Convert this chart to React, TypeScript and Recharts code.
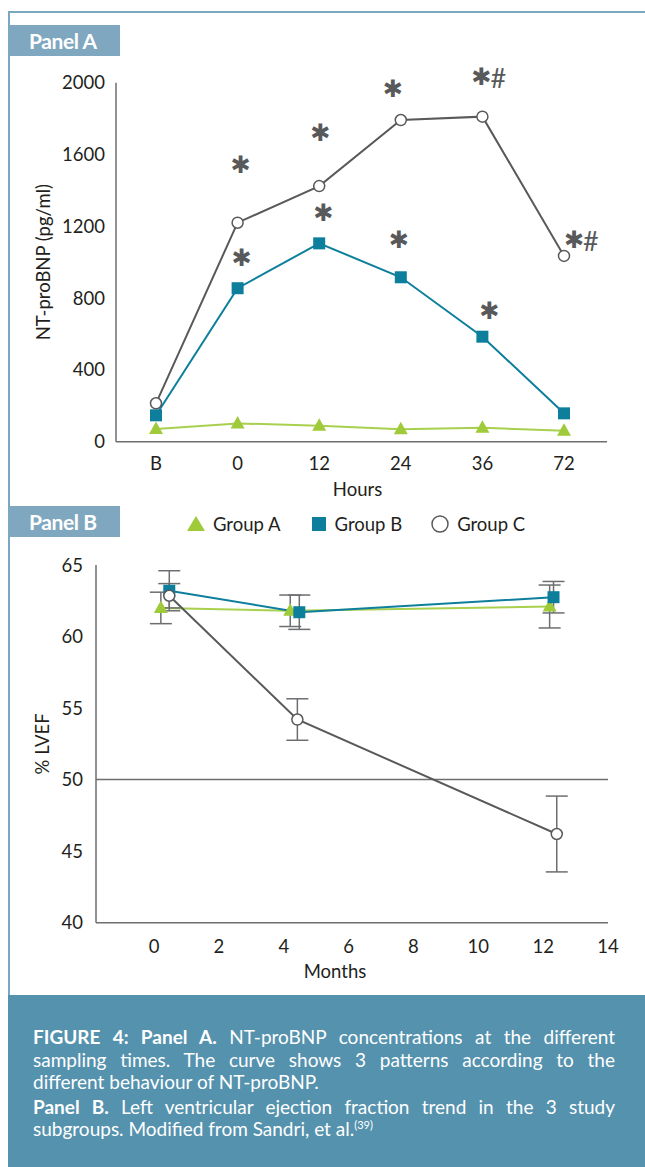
import { LineChart, Line, XAxis, YAxis, ErrorBar, LabelList, ReferenceLine } from 'recharts';

// Panel A: NT-proBNP (pg/ml) by sampling time
const hours = ['B', '0', '12', '24', '36', '72'];
const probnpA = [71, 102, 89, 69, 78, 61];
const probnpB = [147, 855, 1105, 916, 585, 158];
const probnpC = [214, 1220, 1424, 1792, 1811, 1035];
const marksB = ['', '*', '*', '*', '*', ''];
const marksC = ['', '*', '*', '*', '*#', '*#'];
const probnpTicks = [0, 400, 800, 1200, 1600, 2000];

// Panel B: % LVEF by month (x slightly staggered per group)
const monthsA = [0.21, 4.2, 12.2];
const lvefA = [62.0, 61.8, 62.1];
const errA = [1.1, 1.1, 1.5];
const monthsB = [0.47, 4.48, 12.32];
const lvefB = [63.2, 61.7, 62.75];
const errB = [1.4, 1.2, 1.1];
const monthsC = [0.47, 4.42, 12.42];
const lvefC = [62.85, 54.2, 46.2];
const errC = [0.85, 1.45, 2.65];
const lvefTicks = [40, 45, 50, 55, 60, 65];
const monthTicks = [0, 2, 4, 6, 8, 10, 12, 14];

const groups = ['Group A', 'Group B', 'Group C'];

const LIME = '#9fca3a';
const LIME_LINE = '#a8d04e';
const TEAL = '#0d7f9c';
const GRAY = '#58595b';
const AXIS = '#6d6e71';
const INK = '#231f20';
const FRAME = '#79a9c2';
const TAB = '#7fa7bf';
const CAPTION = '#5592ae';
const FONT = 'Lato, "Open Sans", sans-serif';

const hourData = hours.map((h, i) => ({
  hour: h,
  a: probnpA[i],
  b: probnpB[i],
  c: probnpC[i],
  markB: marksB[i],
  markC: marksC[i],
}));

const seriesB = (xs: number[], ys: number[], es: number[]) =>
  xs.map((x, i) => ({ x, y: ys[i], err: es[i] }));

const lvefDataA = seriesB(monthsA, lvefA, errA);
const lvefDataB = seriesB(monthsB, lvefB, errB);
const lvefDataC = seriesB(monthsC, lvefC, errC);

// marker shapes
const TriangleDot = (p: any) => {
  const { cx, cy } = p;
  if (cx == null || cy == null) return null;
  return <polygon points={`${cx},${cy - 7.5} ${cx + 7},${cy + 5} ${cx - 7},${cy + 5}`} fill={LIME} />;
};
const SquareDot = (p: any) => {
  const { cx, cy } = p;
  if (cx == null || cy == null) return null;
  return <rect x={cx - 6} y={cy - 6} width={12} height={12} fill={TEAL} />;
};
const CircleDot = (p: any) => {
  const { cx, cy } = p;
  if (cx == null || cy == null) return null;
  return <circle cx={cx} cy={cy} r={5.5} fill="#fff" stroke={GRAY} strokeWidth={1.5} />;
};

// where each significance mark sits relative to its point
const offsetsB: [number, number][] = [[0, 0], [4, -30], [4, -30], [-2, -37], [7, -26], [0, 0]];
const offsetsC: [number, number][] = [[0, 0], [3, -58], [1, -53], [-8, -31], [-1, -40], [10, -16]];

const starLabel = (offsets: [number, number][]) => (p: any) => {
  const value = p.value;
  if (!value) return null;
  const idx = p.index ?? 0;
  const px = p.x ?? p.viewBox?.x;
  const py = p.y ?? p.viewBox?.y;
  const [dx, dy] = offsets[idx];
  const sx = px + dx;
  const sy = py + dy;
  return (
    <g>
      <text x={sx} y={sy} textAnchor="middle" dominantBaseline="central" fontSize={24} fill={GRAY} fontFamily="DejaVu Sans">
        ✱
      </text>
      {String(value).includes('#') && (
        <text x={sx + 9} y={sy + 1} textAnchor="start" dominantBaseline="central" fontSize={27} fill={GRAY} fontFamily={FONT}>
          #
        </text>
      )}
    </g>
  );
};

const sideLabel = (text: string, x: number) => (p: any) => {
  const vb = p.viewBox;
  const cy = vb.y + vb.height / 2;
  return (
    <text x={x} y={cy} transform={`rotate(-90 ${x} ${cy})`} textAnchor="middle" dominantBaseline="central" fontSize={18.5} fill={INK}>
      {text}
    </text>
  );
};

const bottomLabel = (text: string, dx: number, up: number) => (p: any) => {
  const vb = p.viewBox;
  return (
    <text x={vb.x + vb.width / 2 + dx} y={vb.y + vb.height - up} textAnchor="middle" fontSize={18.5} fill={INK}>
      {text}
    </text>
  );
};

const tickStyle = { fontSize: 18.5, fill: INK };
const axisLine = { stroke: AXIS, strokeWidth: 1.5 };

const Tab = ({ top, text }: { top: number; text: string }) => (
  <div
    style={{
      position: 'absolute',
      left: 9,
      top,
      width: 111,
      height: 31,
      background: TAB,
      color: '#fff',
      fontWeight: 700,
      fontSize: 21,
      lineHeight: '31px',
      paddingLeft: 20,
      boxSizing: 'border-box',
      letterSpacing: -0.4,
    }}
  >
    {text}
  </div>
);

const legendIcons = [
  <svg width={20} height={18} key="a">
    <polygon points="10,1 19,16 1,16" fill={LIME} />
  </svg>,
  <svg width={16} height={16} key="b">
    <rect x={1} y={1} width={14} height={14} fill={TEAL} />
  </svg>,
  <svg width={20} height={20} key="c">
    <circle cx={10} cy={10} r={8} fill="#fff" stroke={GRAY} strokeWidth={1.5} />
  </svg>,
];

const justifyLine = { textAlign: 'justify' as const, textAlignLast: 'justify' as const };

export default function App() {
  return (
    <div style={{ position: 'absolute', left: 0, top: 0, width: 645, height: 1167, background: '#fff', fontFamily: FONT, overflow: 'hidden' }}>
      {/* frame */}
      <div style={{ position: 'absolute', left: 8, top: 11, width: 637, height: 2, background: FRAME }} />
      <div style={{ position: 'absolute', left: 8, top: 11, width: 2, height: 990, background: FRAME }} />

      <div style={{ position: 'absolute', left: 0, top: 0 }}>
        <LineChart width={645} height={510} data={hourData} margin={{ top: 82.7, right: 38, bottom: 8.3, left: 0 }}>
          <XAxis
            dataKey="hour"
            padding={{ left: 40, right: 43 }}
            tickLine={false}
            tickSize={0}
            tickMargin={15}
            height={60}
            axisLine={axisLine}
            tick={tickStyle}
            label={{ content: bottomLabel('Hours', -4, 5.5) }}
          />
          <YAxis
            domain={[0, 2000]}
            ticks={probnpTicks}
            width={116}
            tickLine={false}
            tickSize={0}
            tickMargin={11}
            axisLine={axisLine}
            tick={tickStyle}
            label={{ content: sideLabel('NT-proBNP (pg/ml)', 43) }}
          />
          <Line dataKey="a" name={groups[0]} stroke={LIME_LINE} strokeWidth={2} dot={TriangleDot} isAnimationActive={false} />
          <Line dataKey="b" name={groups[1]} stroke={TEAL} strokeWidth={2} dot={SquareDot} isAnimationActive={false}>
            <LabelList dataKey="markB" content={starLabel(offsetsB)} />
          </Line>
          <Line dataKey="c" name={groups[2]} stroke={GRAY} strokeWidth={2} dot={CircleDot} isAnimationActive={false}>
            <LabelList dataKey="markC" content={starLabel(offsetsC)} />
          </Line>
        </LineChart>
      </div>

      <Tab top={25} text="Panel A" />
      <Tab top={506} text="Panel B" />

      {/* legend */}
      <div style={{ position: 'absolute', top: 511, left: 186, display: 'flex', alignItems: 'center', fontSize: 18.5, color: INK, height: 26 }}>
        {groups.map((g, i) => (
          <div key={g} style={{ display: 'flex', alignItems: 'center', marginRight: i === 0 ? 30 : 28 }}>
            {legendIcons[i]}
            <span style={{ marginLeft: i === 1 ? 8 : 7 }}>{g}</span>
          </div>
        ))}
      </div>

      <div style={{ position: 'absolute', left: 0, top: 500 }}>
        <LineChart width={645} height={500} margin={{ top: 65, right: 37, bottom: 17.3, left: 0 }}>
          <XAxis
            type="number"
            dataKey="x"
            domain={[-1.79, 14]}
            ticks={monthTicks}
            allowDataOverflow
            tickLine={false}
            tickSize={0}
            tickMargin={17}
            height={60}
            axisLine={axisLine}
            tick={tickStyle}
            label={{ content: bottomLabel('Months', -17, 4.7) }}
          />
          <YAxis
            type="number"
            domain={[40, 65]}
            ticks={lvefTicks}
            width={96}
            tickLine={false}
            tickSize={0}
            tickMargin={13}
            axisLine={axisLine}
            tick={tickStyle}
            label={{ content: sideLabel('% LVEF', 42) }}
          />
          <ReferenceLine y={50} stroke={AXIS} strokeWidth={1.5} />
          <Line data={lvefDataA} dataKey="y" name={groups[0]} stroke={LIME_LINE} strokeWidth={2} dot={TriangleDot} isAnimationActive={false}>
            <ErrorBar dataKey="err" direction="y" width={11} stroke={AXIS} strokeWidth={1.5} />
          </Line>
          <Line data={lvefDataB} dataKey="y" name={groups[1]} stroke={TEAL} strokeWidth={2} dot={SquareDot} isAnimationActive={false}>
            <ErrorBar dataKey="err" direction="y" width={11} stroke={AXIS} strokeWidth={1.5} />
          </Line>
          <Line data={lvefDataC} dataKey="y" name={groups[2]} stroke={GRAY} strokeWidth={2} dot={CircleDot} isAnimationActive={false}>
            <ErrorBar dataKey="err" direction="y" width={11} stroke={AXIS} strokeWidth={1.5} />
          </Line>
        </LineChart>
      </div>

      {/* caption */}
      <div
        style={{
          position: 'absolute',
          left: 8,
          top: 995,
          width: 637,
          height: 172,
          background: CAPTION,
          color: '#fff',
          fontSize: 19,
          lineHeight: '22.5px',
          padding: '31px 30px 0 25px',
          boxSizing: 'border-box',
        }}
      >
        <div style={justifyLine}>
          <b>FIGURE 4: Panel A.</b> NT-proBNP concentrations at the different
        </div>
        <div style={justifyLine}>sampling times. The curve shows 3 patterns according to the</div>
        <div>different behaviour of NT-proBNP.</div>
        <div style={{ ...justifyLine, marginTop: 2 }}>
          <b>Panel B.</b> Left ventricular ejection fraction trend in the 3 study
        </div>
        <div>
          subgroups. Modified from Sandri, et al.<sup style={{ fontSize: 11, verticalAlign: 7, lineHeight: 0 }}>(39)</sup>
        </div>
      </div>
    </div>
  );
}
